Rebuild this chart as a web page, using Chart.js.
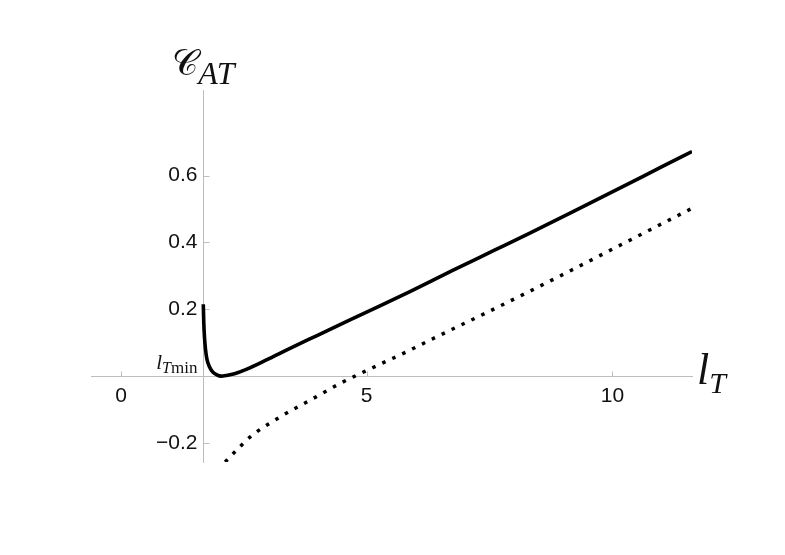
<!DOCTYPE html>
<html>
<head>
<meta charset="utf-8">
<script src="https://cdn.jsdelivr.net/npm/chart.js@4"></script>
<style>
  html, body { margin: 0; padding: 0; background: #fff; }
  #wrap { width: 785px; height: 555px; }
</style>
</head>
<body>
<div id="wrap"><canvas id="myChart" width="785" height="555"></canvas></div>
<script>
// values
const solidX = [1.675, 1.685, 1.70, 1.72, 1.75, 1.80, 1.87, 1.95, 2.04, 2.15, 2.31, 2.55, 2.97, 3.44, 4.0, 4.66, 5.27, 5.88, 6.76, 7.59, 8.32, 9.2, 10.2, 11.0, 11.62];
const solidY = [0.215, 0.16, 0.115, 0.08, 0.05, 0.028, 0.012, 0.004, 0.0, 0.002, 0.007, 0.02, 0.049, 0.083, 0.122, 0.168, 0.21, 0.253, 0.317, 0.376, 0.428, 0.492, 0.566, 0.626, 0.672];
const dottedX = [2.12, 2.29, 2.63, 3.24, 3.85, 4.46, 5.12, 5.8, 6.43, 7.4, 8.32, 9.3, 10.4, 11.62];
const dottedY = [-0.257, -0.231, -0.182, -0.122, -0.072, -0.022, 0.025, 0.072, 0.118, 0.187, 0.254, 0.327, 0.41, 0.502];
const xTicks = [0, 5, 10];
const yTicks = [-0.2, 0.2, 0.4, 0.6];
const lTmin = 1.675;
const xRange = [-0.61, 11.62];
const yRange = [-0.257, 0.856];

const toPoints = (xs, ys) => xs.map((v, i) => ({ x: v, y: ys[i] }));
const fmt = v => (v < 0 ? '\u2212' + Math.abs(v) : String(v));
const axisGray = '#bdbdbd';
const serif = '"Liberation Serif", "DejaVu Serif", serif';

function drawParts(ctx, x, parts) {
  // parts: [text, font, baselineY]
  parts.forEach(([t, font, by]) => {
    ctx.font = font;
    ctx.fillText(t, x, by);
    x += ctx.measureText(t).width;
  });
}

const axisDecor = {
  id: 'axisDecor',
  beforeDatasetsDraw(chart) {
    const { ctx, scales: { x, y } } = chart;
    const x0 = Math.round(x.getPixelForValue(lTmin)) + 0.5;
    const y0 = Math.round(y.getPixelForValue(0)) + 0.5;
    ctx.save();
    ctx.strokeStyle = axisGray;
    ctx.lineWidth = 1;
    ctx.beginPath();
    xTicks.forEach(v => {
      const px = Math.round(x.getPixelForValue(v)) + 0.5;
      ctx.moveTo(px, y0);
      ctx.lineTo(px, y0 - 5);
    });
    yTicks.forEach(v => {
      const py = Math.round(y.getPixelForValue(v)) + 0.5;
      ctx.moveTo(x0, py);
      ctx.lineTo(x0 + 6, py);
    });
    ctx.stroke();
    ctx.restore();
  },
  afterDraw(chart) {
    const { ctx, chartArea, scales: { x, y } } = chart;
    const x0 = x.getPixelForValue(lTmin);
    const y0 = y.getPixelForValue(0);
    ctx.save();
    ctx.fillStyle = '#111';
    ctx.textBaseline = 'alphabetic';
    ctx.textAlign = 'left';
    // y axis title
    drawParts(ctx, x0 - 31, [
      ['\uD835\uDC9E', '36px ' + serif, 75],
      ['AT', 'italic 32px ' + serif, 84]
    ]);
    // x axis title
    drawParts(ctx, chartArea.right + 5, [
      ['l', 'italic 44px ' + serif, y0 + 8],
      ['T', 'italic 30px ' + serif, y0 + 17]
    ]);
    // lTmin marker label
    drawParts(ctx, x0 - 47, [
      ['l', 'italic 21px ' + serif, y0 - 7],
      ['T', 'italic 16px ' + serif, y0 - 3],
      ['min', '17px ' + serif, y0 - 3]
    ]);
    ctx.restore();
  }
};

const config = {
  type: 'line',
  data: {
    datasets: [
      {
        data: toPoints(solidX, solidY),
        borderColor: '#000',
        borderWidth: 3.6,
        pointRadius: 0,
        cubicInterpolationMode: 'monotone'
      },
      {
        data: toPoints(dottedX, dottedY),
        borderColor: '#000',
        borderWidth: 3.5,
        borderDash: [3.5, 7.5],
        borderCapStyle: 'butt',
        pointRadius: 0,
        cubicInterpolationMode: 'monotone'
      }
    ]
  },
  options: {
    responsive: false,
    animation: false,
    layout: { padding: { left: 91, right: 93, top: 90, bottom: 93 } },
    plugins: { legend: { display: false }, tooltip: { enabled: false } },
    scales: {
      x: {
        type: 'linear',
        position: { y: 0 },
        min: xRange[0],
        max: xRange[1],
        afterBuildTicks: s => { s.ticks = xTicks.map(v => ({ value: v })); },
        afterFit: s => { s.height = 0; },
        grid: { display: false, drawTicks: false },
        border: { display: true, color: axisGray, width: 1 },
        ticks: {
          padding: 8,
          color: '#111',
          font: { family: '"Liberation Sans", Arial, sans-serif', size: 21 },
          callback: v => fmt(v)
        }
      },
      y: {
        type: 'linear',
        position: { x: lTmin },
        min: yRange[0],
        max: yRange[1],
        afterBuildTicks: s => { s.ticks = yTicks.map(v => ({ value: v })); },
        afterFit: s => { s.width = 0; },
        grid: { display: false, drawTicks: false },
        border: { display: true, color: axisGray, width: 1 },
        ticks: {
          color: '#111',
          font: { family: '"Liberation Sans", Arial, sans-serif', size: 21 },
          // positioned axes ignore padding, a trailing space keeps the gap
          callback: v => fmt(v) + ' '
        }
      }
    }
  },
  plugins: [axisDecor]
};

new Chart(document.getElementById('myChart'), config);
</script>
</body>
</html>
